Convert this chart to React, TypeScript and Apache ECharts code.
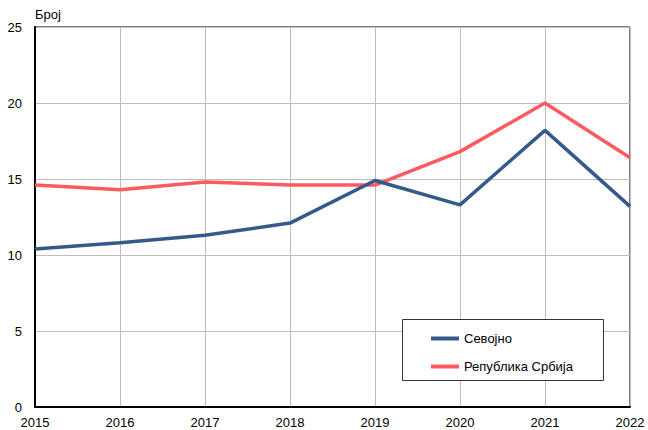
import React, { useEffect, useRef } from "react";
import * as echarts from "echarts";

const years = ["2015", "2016", "2017", "2018", "2019", "2020", "2021", "2022"];
const sevojno = [10.4, 10.8, 11.3, 12.1, 14.9, 13.3, 18.2, 13.2];
const srbija = [14.6, 14.3, 14.8, 14.6, 14.6, 16.8, 20.0, 16.4];
const seriesNames = ["Севојно", "Република Србија"];
const yName = "Број";

export default function App() {
  const ref = useRef<HTMLDivElement>(null);
  useEffect(() => {
    if (!ref.current) return;
    const chart = echarts.init(ref.current, undefined, { renderer: "svg" });
    const font = "Liberation Sans, Arial, sans-serif";
    chart.setOption({
      animation: false,
      backgroundColor: "#fff",
      textStyle: { fontFamily: font },
      grid: {
        left: 35,
        right: 18,
        top: 27,
        bottom: 23,
        show: true,
        borderColor: "#000",
        borderWidth: 1,
        containLabel: false,
      },
      xAxis: {
        type: "category",
        data: years,
        boundaryGap: false,
        axisLine: { show: true, lineStyle: { color: "#000", width: 2 } },
        axisTick: { show: false },
        axisLabel: { color: "#000", fontSize: 13, margin: 9, fontFamily: font },
        splitLine: { show: true, lineStyle: { color: "#bdbdbd", width: 1 } },
      },
      yAxis: {
        type: "value",
        min: 0,
        max: 25,
        interval: 5,
        name: yName,
        nameLocation: "end",
        nameGap: 6,
        nameTextStyle: { align: "left", color: "#000", fontSize: 13, fontFamily: font },
        axisLine: { show: true, lineStyle: { color: "#000", width: 2 } },
        axisTick: { show: false },
        axisLabel: { color: "#000", fontSize: 13, margin: 13, fontFamily: font },
        splitLine: { show: true, lineStyle: { color: "#bdbdbd", width: 1 } },
      },
      graphic: [
        {
          type: "rect",
          left: 402,
          top: 319,
          shape: { width: 201, height: 61 },
          style: { fill: "#fff", stroke: "#333", lineWidth: 1 },
          z: 10,
        },
      ],
      legend: {
        orient: "vertical",
        left: 426,
        top: 327,
        itemWidth: 28,
        itemHeight: 4,
        itemGap: 15,
        icon: "rect",
        z: 11,
        textStyle: { color: "#000", fontSize: 13, fontFamily: font },
        data: seriesNames,
      },
      series: [
        {
          name: seriesNames[0],
          type: "line",
          data: sevojno,
          symbol: "none",
          lineStyle: { color: "#335a8a", width: 3.5 },
          itemStyle: { color: "#335a8a" },
          z: 3,
        },
        {
          name: seriesNames[1],
          type: "line",
          data: srbija,
          symbol: "none",
          lineStyle: { color: "#ff5a5f", width: 3.5 },
          itemStyle: { color: "#ff5a5f" },
          z: 2,
        },
      ],
    });
    return () => chart.dispose();
  }, []);
  return (
    <div
      ref={ref}
      style={{ position: "absolute", left: 0, top: 0, width: 648, height: 430 }}
    />
  );
}
